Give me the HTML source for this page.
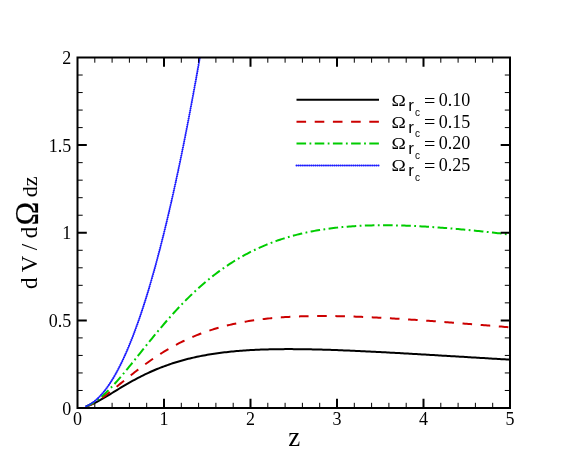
<!DOCTYPE html>
<html><head><meta charset="utf-8"><style>html,body{margin:0;padding:0;background:#fff}svg{display:block;will-change:transform}text{font-family:"Liberation Serif",serif;fill:#000}.s{font-family:"Liberation Sans",sans-serif}</style></head><body>
<svg width="581" height="461" viewBox="0 0 581 461">
<rect width="581" height="461" fill="#fff"/>
<defs><clipPath id="c"><rect x="77.5" y="57.5" width="432.5" height="350.5"/></clipPath></defs>
<g clip-path="url(#c)" fill="none" stroke-width="2" stroke-linejoin="round">
<polyline points="86.15,406.51 87.88,405.92 89.61,405.25 91.34,404.53 93.07,403.74 94.80,402.90 96.53,402.02 98.26,401.10 99.99,400.15 101.72,399.18 103.45,398.17 105.18,397.16 106.91,396.12 108.64,395.08 110.37,394.03 112.10,392.98 113.83,391.92 115.56,390.86 117.29,389.81 119.02,388.76 120.75,387.72 122.48,386.69 124.21,385.66 125.94,384.65 127.67,383.65 129.40,382.66 131.13,381.69 132.86,380.73 134.59,379.78 136.32,378.85 138.05,377.94 139.78,377.05 141.51,376.17 143.24,375.30 144.97,374.46 146.70,373.63 148.43,372.82 150.16,372.03 151.89,371.25 153.62,370.50 155.35,369.76 157.08,369.04 158.81,368.33 160.54,367.65 162.27,366.98 164.00,366.32 165.73,365.69 167.46,365.07 169.19,364.46 170.92,363.88 172.65,363.31 174.38,362.75 176.11,362.21 177.84,361.69 179.57,361.18 181.30,360.68 183.03,360.20 184.76,359.73 186.49,359.28 188.22,358.84 189.95,358.42 191.68,358.01 193.41,357.61 195.14,357.22 196.87,356.85 198.60,356.48 200.33,356.13 202.06,355.80 203.79,355.47 205.52,355.15 207.25,354.85 208.98,354.55 210.71,354.27 212.44,353.99 214.17,353.73 215.90,353.48 217.63,353.23 219.36,353.00 221.09,352.77 222.82,352.55 224.55,352.34 226.28,352.14 228.01,351.95 229.74,351.76 231.47,351.59 233.20,351.42 234.93,351.26 236.66,351.10 238.39,350.96 240.12,350.82 241.85,350.68 243.58,350.56 245.31,350.44 247.04,350.32 248.77,350.21 250.50,350.11 252.23,350.02 253.96,349.93 255.69,349.84 257.42,349.76 259.15,349.69 260.88,349.62 262.61,349.55 264.34,349.49 266.07,349.44 267.80,349.39 269.53,349.35 271.26,349.30 272.99,349.27 274.72,349.24 276.45,349.21 278.18,349.18 279.91,349.16 281.64,349.15 283.37,349.13 285.10,349.12 286.83,349.12 288.56,349.12 290.29,349.12 292.02,349.12 293.75,349.13 295.48,349.14 297.21,349.15 298.94,349.17 300.67,349.19 302.40,349.21 304.13,349.23 305.86,349.26 307.59,349.29 309.32,349.32 311.05,349.35 312.78,349.39 314.51,349.43 316.24,349.47 317.97,349.51 319.70,349.56 321.43,349.61 323.16,349.65 324.89,349.71 326.62,349.76 328.35,349.81 330.08,349.87 331.81,349.93 333.54,349.99 335.27,350.05 337.00,350.11 338.73,350.18 340.46,350.24 342.19,350.31 343.92,350.38 345.65,350.45 347.38,350.52 349.11,350.59 350.84,350.67 352.57,350.74 354.30,350.82 356.03,350.90 357.76,350.98 359.49,351.06 361.22,351.14 362.95,351.22 364.68,351.30 366.41,351.38 368.14,351.47 369.87,351.55 371.60,351.64 373.33,351.73 375.06,351.82 376.79,351.90 378.52,351.99 380.25,352.08 381.98,352.17 383.71,352.27 385.44,352.36 387.17,352.45 388.90,352.54 390.63,352.64 392.36,352.73 394.09,352.83 395.82,352.92 397.55,353.02 399.28,353.11 401.01,353.21 402.74,353.31 404.47,353.41 406.20,353.50 407.93,353.60 409.66,353.70 411.39,353.80 413.12,353.90 414.85,354.00 416.58,354.10 418.31,354.20 420.04,354.30 421.77,354.40 423.50,354.50 425.23,354.61 426.96,354.71 428.69,354.81 430.42,354.91 432.15,355.01 433.88,355.12 435.61,355.22 437.34,355.32 439.07,355.42 440.80,355.53 442.53,355.63 444.26,355.73 445.99,355.84 447.72,355.94 449.45,356.04 451.18,356.15 452.91,356.25 454.64,356.36 456.37,356.46 458.10,356.56 459.83,356.67 461.56,356.77 463.29,356.87 465.02,356.98 466.75,357.08 468.48,357.19 470.21,357.29 471.94,357.39 473.67,357.50 475.40,357.60 477.13,357.71 478.86,357.81 480.59,357.91 482.32,358.02 484.05,358.12 485.78,358.22 487.51,358.33 489.24,358.43 490.97,358.53 492.70,358.64 494.43,358.74 496.16,358.84 497.89,358.94 499.62,359.05 501.35,359.15 503.08,359.25 504.81,359.35 506.54,359.46 508.27,359.56 510.00,359.66" stroke="#000000"/>
<polyline points="86.15,406.43 87.88,405.80 89.61,405.07 91.34,404.26 93.07,403.37 94.80,402.42 96.53,401.40 98.26,400.32 99.99,399.20 101.72,398.03 103.45,396.82 105.18,395.57 106.91,394.29 108.64,392.99 110.37,391.66 112.10,390.32 113.83,388.95 115.56,387.58 117.29,386.19 119.02,384.80 120.75,383.40 122.48,382.00 124.21,380.61 125.94,379.21 127.67,377.82 129.40,376.44 131.13,375.06 132.86,373.69 134.59,372.33 136.32,370.99 138.05,369.65 139.78,368.33 141.51,367.03 143.24,365.74 144.97,364.47 146.70,363.21 148.43,361.97 150.16,360.75 151.89,359.55 153.62,358.36 155.35,357.20 157.08,356.05 158.81,354.93 160.54,353.82 162.27,352.74 164.00,351.67 165.73,350.62 167.46,349.60 169.19,348.59 170.92,347.61 172.65,346.64 174.38,345.70 176.11,344.77 177.84,343.86 179.57,342.98 181.30,342.11 183.03,341.26 184.76,340.44 186.49,339.63 188.22,338.83 189.95,338.06 191.68,337.31 193.41,336.57 195.14,335.85 196.87,335.15 198.60,334.47 200.33,333.80 202.06,333.15 203.79,332.52 205.52,331.91 207.25,331.31 208.98,330.72 210.71,330.15 212.44,329.60 214.17,329.06 215.90,328.54 217.63,328.03 219.36,327.54 221.09,327.05 222.82,326.59 224.55,326.14 226.28,325.70 228.01,325.27 229.74,324.86 231.47,324.45 233.20,324.07 234.93,323.69 236.66,323.32 238.39,322.97 240.12,322.63 241.85,322.30 243.58,321.98 245.31,321.67 247.04,321.37 248.77,321.09 250.50,320.81 252.23,320.54 253.96,320.28 255.69,320.03 257.42,319.79 259.15,319.56 260.88,319.34 262.61,319.13 264.34,318.93 266.07,318.73 267.80,318.55 269.53,318.37 271.26,318.20 272.99,318.03 274.72,317.88 276.45,317.73 278.18,317.59 279.91,317.45 281.64,317.32 283.37,317.20 285.10,317.09 286.83,316.98 288.56,316.88 290.29,316.79 292.02,316.70 293.75,316.61 295.48,316.54 297.21,316.47 298.94,316.40 300.67,316.34 302.40,316.28 304.13,316.23 305.86,316.19 307.59,316.15 309.32,316.11 311.05,316.08 312.78,316.06 314.51,316.04 316.24,316.02 317.97,316.01 319.70,316.00 321.43,315.99 323.16,315.99 324.89,316.00 326.62,316.01 328.35,316.02 330.08,316.03 331.81,316.05 333.54,316.07 335.27,316.10 337.00,316.13 338.73,316.16 340.46,316.20 342.19,316.23 343.92,316.28 345.65,316.32 347.38,316.37 349.11,316.42 350.84,316.47 352.57,316.53 354.30,316.58 356.03,316.65 357.76,316.71 359.49,316.77 361.22,316.84 362.95,316.91 364.68,316.99 366.41,317.06 368.14,317.14 369.87,317.22 371.60,317.30 373.33,317.38 375.06,317.47 376.79,317.55 378.52,317.64 380.25,317.73 381.98,317.83 383.71,317.92 385.44,318.02 387.17,318.12 388.90,318.21 390.63,318.32 392.36,318.42 394.09,318.52 395.82,318.63 397.55,318.73 399.28,318.84 401.01,318.95 402.74,319.06 404.47,319.17 406.20,319.29 407.93,319.40 409.66,319.51 411.39,319.63 413.12,319.75 414.85,319.87 416.58,319.99 418.31,320.11 420.04,320.23 421.77,320.35 423.50,320.47 425.23,320.60 426.96,320.72 428.69,320.85 430.42,320.98 432.15,321.10 433.88,321.23 435.61,321.36 437.34,321.49 439.07,321.62 440.80,321.75 442.53,321.88 444.26,322.02 445.99,322.15 447.72,322.28 449.45,322.42 451.18,322.55 452.91,322.69 454.64,322.82 456.37,322.96 458.10,323.09 459.83,323.23 461.56,323.37 463.29,323.51 465.02,323.64 466.75,323.78 468.48,323.92 470.21,324.06 471.94,324.20 473.67,324.34 475.40,324.48 477.13,324.62 478.86,324.76 480.59,324.90 482.32,325.04 484.05,325.19 485.78,325.33 487.51,325.47 489.24,325.61 490.97,325.75 492.70,325.90 494.43,326.04 496.16,326.18 497.89,326.32 499.62,326.47 501.35,326.61 503.08,326.75 504.81,326.90 506.54,327.04 508.27,327.18 510.00,327.33" stroke="#cc0000" stroke-dasharray="9.6 8.6"/>
<polyline points="86.15,406.35 87.88,405.65 89.61,404.85 91.34,403.93 93.07,402.92 94.80,401.81 96.53,400.61 98.26,399.33 99.99,397.96 101.72,396.52 103.45,395.01 105.18,393.42 106.91,391.78 108.64,390.08 110.37,388.32 112.10,386.51 113.83,384.65 115.56,382.76 117.29,380.82 119.02,378.85 120.75,376.85 122.48,374.81 124.21,372.76 125.94,370.68 127.67,368.58 129.40,366.46 131.13,364.33 132.86,362.19 134.59,360.04 136.32,357.88 138.05,355.72 139.78,353.56 141.51,351.40 143.24,349.23 144.97,347.08 146.70,344.92 148.43,342.78 150.16,340.64 151.89,338.51 153.62,336.40 155.35,334.29 157.08,332.20 158.81,330.13 160.54,328.07 162.27,326.03 164.00,324.00 165.73,321.99 167.46,320.00 169.19,318.04 170.92,316.09 172.65,314.16 174.38,312.26 176.11,310.37 177.84,308.51 179.57,306.68 181.30,304.86 183.03,303.07 184.76,301.30 186.49,299.56 188.22,297.84 189.95,296.15 191.68,294.48 193.41,292.83 195.14,291.21 196.87,289.62 198.60,288.05 200.33,286.50 202.06,284.98 203.79,283.49 205.52,282.02 207.25,280.57 208.98,279.15 210.71,277.75 212.44,276.38 214.17,275.03 215.90,273.70 217.63,272.40 219.36,271.13 221.09,269.87 222.82,268.64 224.55,267.44 226.28,266.25 228.01,265.09 229.74,263.95 231.47,262.84 233.20,261.75 234.93,260.67 236.66,259.62 238.39,258.60 240.12,257.59 241.85,256.60 243.58,255.64 245.31,254.69 247.04,253.77 248.77,252.86 250.50,251.98 252.23,251.11 253.96,250.27 255.69,249.44 257.42,248.63 259.15,247.84 260.88,247.07 262.61,246.32 264.34,245.58 266.07,244.87 267.80,244.16 269.53,243.48 271.26,242.81 272.99,242.16 274.72,241.53 276.45,240.91 278.18,240.31 279.91,239.72 281.64,239.15 283.37,238.59 285.10,238.05 286.83,237.52 288.56,237.01 290.29,236.51 292.02,236.02 293.75,235.55 295.48,235.10 297.21,234.65 298.94,234.22 300.67,233.80 302.40,233.40 304.13,233.00 305.86,232.62 307.59,232.25 309.32,231.89 311.05,231.55 312.78,231.21 314.51,230.89 316.24,230.58 317.97,230.28 319.70,229.98 321.43,229.70 323.16,229.43 324.89,229.17 326.62,228.93 328.35,228.69 330.08,228.45 331.81,228.23 333.54,228.02 335.27,227.82 337.00,227.63 338.73,227.44 340.46,227.26 342.19,227.10 343.92,226.94 345.65,226.79 347.38,226.64 349.11,226.51 350.84,226.38 352.57,226.26 354.30,226.15 356.03,226.04 357.76,225.95 359.49,225.86 361.22,225.77 362.95,225.70 364.68,225.63 366.41,225.56 368.14,225.51 369.87,225.45 371.60,225.41 373.33,225.37 375.06,225.34 376.79,225.31 378.52,225.29 380.25,225.28 381.98,225.27 383.71,225.27 385.44,225.27 387.17,225.27 388.90,225.29 390.63,225.30 392.36,225.33 394.09,225.35 395.82,225.38 397.55,225.42 399.28,225.46 401.01,225.51 402.74,225.56 404.47,225.61 406.20,225.67 407.93,225.73 409.66,225.80 411.39,225.87 413.12,225.95 414.85,226.03 416.58,226.11 418.31,226.20 420.04,226.29 421.77,226.38 423.50,226.48 425.23,226.58 426.96,226.68 428.69,226.79 430.42,226.90 432.15,227.01 433.88,227.13 435.61,227.25 437.34,227.37 439.07,227.50 440.80,227.63 442.53,227.76 444.26,227.89 445.99,228.03 447.72,228.17 449.45,228.31 451.18,228.46 452.91,228.61 454.64,228.76 456.37,228.91 458.10,229.06 459.83,229.22 461.56,229.38 463.29,229.54 465.02,229.70 466.75,229.87 468.48,230.03 470.21,230.20 471.94,230.38 473.67,230.55 475.40,230.72 477.13,230.90 478.86,231.08 480.59,231.26 482.32,231.44 484.05,231.63 485.78,231.81 487.51,232.00 489.24,232.19 490.97,232.38 492.70,232.57 494.43,232.76 496.16,232.96 497.89,233.15 499.62,233.35 501.35,233.55 503.08,233.75 504.81,233.95 506.54,234.16 508.27,234.36 510.00,234.56" stroke="#00cc00" stroke-dasharray="9.6 3.4 1.8 3.4"/>
<polyline points="86.15,406.25 87.88,405.48 89.61,404.57 91.34,403.51 93.07,402.32 94.80,400.99 96.53,399.52 98.26,397.91 99.99,396.15 101.72,394.26 103.45,392.23 105.18,390.05 106.91,387.74 108.64,385.29 110.37,382.69 112.10,379.96 113.83,377.09 115.56,374.07 117.29,370.92 119.02,367.62 120.75,364.19 122.48,360.61 124.21,356.90 125.94,353.04 127.67,349.05 129.40,344.91 131.13,340.63 132.86,336.22 134.59,331.66 136.32,326.96 138.05,322.13 139.78,317.15 141.51,312.03 143.24,306.78 144.97,301.38 146.70,295.84 148.43,290.16 150.16,284.34 151.89,278.39 153.62,272.29 155.35,266.05 157.08,259.67 158.81,253.15 160.54,246.49 162.27,239.69 164.00,232.75 165.73,225.67 167.46,218.45 169.19,211.09 170.92,203.59 172.65,195.95 174.38,188.17 176.11,180.25 177.84,172.18 179.57,163.98 181.30,155.64 183.03,147.16 184.76,138.54 186.49,129.77 188.22,120.87 189.95,111.83 191.68,102.64 193.41,93.32 195.14,83.86 196.87,74.25 198.60,64.51 200.33,54.63 200.42,54.13" stroke="#1c1cff" stroke-dasharray="0.15 1.95" stroke-linecap="round" stroke-width="2"/>
</g>
<g stroke="#000" fill="none"><path d="M94.80,408.0v-5.2M94.80,57.5v5.2" stroke-width="1"/><path d="M112.10,408.0v-5.2M112.10,57.5v5.2" stroke-width="1"/><path d="M129.40,408.0v-5.2M129.40,57.5v5.2" stroke-width="1"/><path d="M146.70,408.0v-5.2M146.70,57.5v5.2" stroke-width="1"/><path d="M164.00,408.0v-9.3M164.00,57.5v9.3" stroke-width="2"/><path d="M181.30,408.0v-5.2M181.30,57.5v5.2" stroke-width="1"/><path d="M198.60,408.0v-5.2M198.60,57.5v5.2" stroke-width="1"/><path d="M215.90,408.0v-5.2M215.90,57.5v5.2" stroke-width="1"/><path d="M233.20,408.0v-5.2M233.20,57.5v5.2" stroke-width="1"/><path d="M250.50,408.0v-9.3M250.50,57.5v9.3" stroke-width="2"/><path d="M267.80,408.0v-5.2M267.80,57.5v5.2" stroke-width="1"/><path d="M285.10,408.0v-5.2M285.10,57.5v5.2" stroke-width="1"/><path d="M302.40,408.0v-5.2M302.40,57.5v5.2" stroke-width="1"/><path d="M319.70,408.0v-5.2M319.70,57.5v5.2" stroke-width="1"/><path d="M337.00,408.0v-9.3M337.00,57.5v9.3" stroke-width="2"/><path d="M354.30,408.0v-5.2M354.30,57.5v5.2" stroke-width="1"/><path d="M371.60,408.0v-5.2M371.60,57.5v5.2" stroke-width="1"/><path d="M388.90,408.0v-5.2M388.90,57.5v5.2" stroke-width="1"/><path d="M406.20,408.0v-5.2M406.20,57.5v5.2" stroke-width="1"/><path d="M423.50,408.0v-9.3M423.50,57.5v9.3" stroke-width="2"/><path d="M440.80,408.0v-5.2M440.80,57.5v5.2" stroke-width="1"/><path d="M458.10,408.0v-5.2M458.10,57.5v5.2" stroke-width="1"/><path d="M475.40,408.0v-5.2M475.40,57.5v5.2" stroke-width="1"/><path d="M492.70,408.0v-5.2M492.70,57.5v5.2" stroke-width="1"/><path d="M77.5,390.48h5.2M510.0,390.48h-5.2" stroke-width="1"/><path d="M77.5,372.95h5.2M510.0,372.95h-5.2" stroke-width="1"/><path d="M77.5,355.43h5.2M510.0,355.43h-5.2" stroke-width="1"/><path d="M77.5,337.90h5.2M510.0,337.90h-5.2" stroke-width="1"/><path d="M77.5,320.38h9.3M510.0,320.38h-9.3" stroke-width="2"/><path d="M77.5,302.85h5.2M510.0,302.85h-5.2" stroke-width="1"/><path d="M77.5,285.32h5.2M510.0,285.32h-5.2" stroke-width="1"/><path d="M77.5,267.80h5.2M510.0,267.80h-5.2" stroke-width="1"/><path d="M77.5,250.28h5.2M510.0,250.28h-5.2" stroke-width="1"/><path d="M77.5,232.75h9.3M510.0,232.75h-9.3" stroke-width="2"/><path d="M77.5,215.22h5.2M510.0,215.22h-5.2" stroke-width="1"/><path d="M77.5,197.70h5.2M510.0,197.70h-5.2" stroke-width="1"/><path d="M77.5,180.17h5.2M510.0,180.17h-5.2" stroke-width="1"/><path d="M77.5,162.65h5.2M510.0,162.65h-5.2" stroke-width="1"/><path d="M77.5,145.12h9.3M510.0,145.12h-9.3" stroke-width="2"/><path d="M77.5,127.60h5.2M510.0,127.60h-5.2" stroke-width="1"/><path d="M77.5,110.07h5.2M510.0,110.07h-5.2" stroke-width="1"/><path d="M77.5,92.55h5.2M510.0,92.55h-5.2" stroke-width="1"/><path d="M77.5,75.02h5.2M510.0,75.02h-5.2" stroke-width="1"/></g>
<rect x="77.5" y="57.5" width="432.5" height="350.5" fill="none" stroke="#000" stroke-width="2"/>
<text x="77.50" y="425" font-size="18" text-anchor="middle">0</text>
<text x="164.00" y="425" font-size="18" text-anchor="middle">1</text>
<text x="250.50" y="425" font-size="18" text-anchor="middle">2</text>
<text x="337.00" y="425" font-size="18" text-anchor="middle">3</text>
<text x="423.50" y="425" font-size="18" text-anchor="middle">4</text>
<text x="510.00" y="425" font-size="18" text-anchor="middle">5</text>
<text x="71.3" y="414.60" font-size="18" text-anchor="end">0</text>
<text x="71.3" y="326.98" font-size="18" text-anchor="end">0.5</text>
<text x="71.3" y="239.35" font-size="18" text-anchor="end">1</text>
<text x="71.3" y="151.72" font-size="18" text-anchor="end">1.5</text>
<text x="71.3" y="64.10" font-size="18" text-anchor="end">2</text>
<text x="294.2" y="445.5" font-size="27" text-anchor="middle">z</text>
<text transform="translate(37.3,289.1) rotate(-90)" font-size="23">d V / d</text>
<text transform="translate(37.8,225.6) rotate(-90) scale(0.97,1)" font-size="33" stroke="#000" stroke-width="0.2">Ω</text>
<text transform="translate(37,197.2) rotate(-90)" font-size="22">dz</text>
<line x1="296.5" y1="99.8" x2="379.0" y2="99.8" stroke="#000000" stroke-width="2"/>
<text transform="translate(391.6,105.60) scale(1.17,1)" font-size="16.5">Ω</text>
<text class="s" x="408.2" y="110.60" font-size="17">r</text>
<text class="s" x="415" y="115.50" font-size="10">c</text>
<text transform="translate(424.0,106.50) scale(1.12,1)" font-size="18">=</text>
<text x="438.85" y="105.60" font-size="18">0.10</text>
<line x1="296.5" y1="121.7" x2="379.0" y2="121.7" stroke="#cc0000" stroke-width="2" stroke-dasharray="9.6 8.6"/>
<text transform="translate(391.6,127.50) scale(1.17,1)" font-size="16.5">Ω</text>
<text class="s" x="408.2" y="132.50" font-size="17">r</text>
<text class="s" x="415" y="137.40" font-size="10">c</text>
<text transform="translate(424.0,128.40) scale(1.12,1)" font-size="18">=</text>
<text x="438.85" y="127.50" font-size="18">0.15</text>
<line x1="296.5" y1="143.6" x2="379.0" y2="143.6" stroke="#00cc00" stroke-width="2" stroke-dasharray="9.6 3.4 1.8 3.4"/>
<text transform="translate(391.6,149.40) scale(1.17,1)" font-size="16.5">Ω</text>
<text class="s" x="408.2" y="154.40" font-size="17">r</text>
<text class="s" x="415" y="159.30" font-size="10">c</text>
<text transform="translate(424.0,150.30) scale(1.12,1)" font-size="18">=</text>
<text x="438.85" y="149.40" font-size="18">0.20</text>
<line x1="296.5" y1="165.5" x2="379.0" y2="165.5" stroke="#1c1cff" stroke-width="2" stroke-dasharray="0.15 1.95" stroke-linecap="round"/>
<text transform="translate(391.6,171.30) scale(1.17,1)" font-size="16.5">Ω</text>
<text class="s" x="408.2" y="176.30" font-size="17">r</text>
<text class="s" x="415" y="181.20" font-size="10">c</text>
<text transform="translate(424.0,172.20) scale(1.12,1)" font-size="18">=</text>
<text x="438.85" y="171.30" font-size="18">0.25</text>
</svg></body></html>
